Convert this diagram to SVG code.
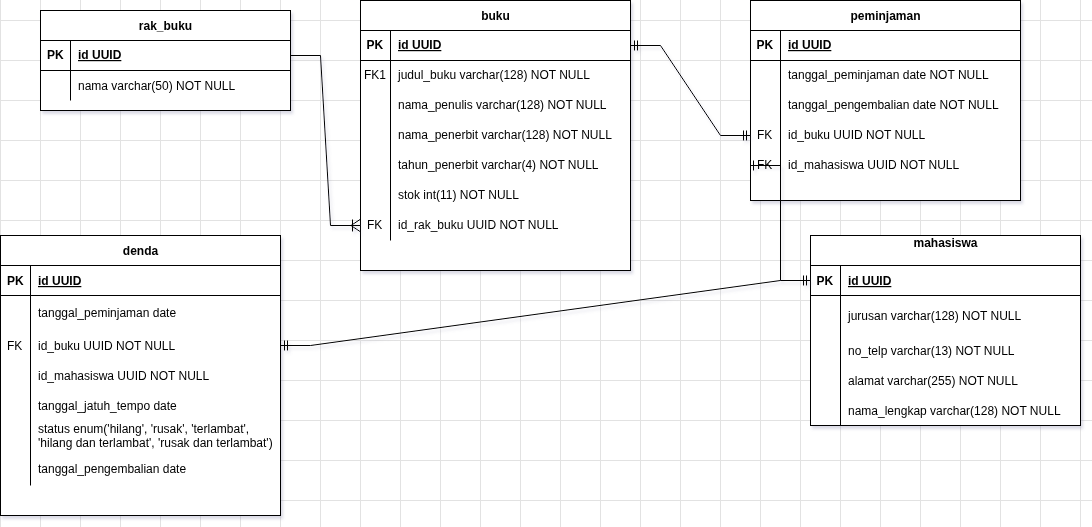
<svg xmlns="http://www.w3.org/2000/svg" width="1092" height="527" viewBox="0 0 1092 527">
<defs>
<pattern id="minor" width="10" height="10" patternUnits="userSpaceOnUse" x="0" y="0">
<path d="M10.5 0V10M0 10.5H10" fill="none" stroke="#f1f1f1" stroke-width="1"/>
</pattern>
<pattern id="major" width="40" height="40" patternUnits="userSpaceOnUse" x="0" y="20">
<path d="M0.5 0V40M0 0.5H40" fill="none" stroke="#e2e2e2" stroke-width="1"/>
</pattern>
<filter id="sh" x="-10%" y="-10%" width="130%" height="130%">
<feDropShadow dx="2" dy="3" stdDeviation="1.5" flood-color="#8888aa" flood-opacity="0.3"/>
</filter>
</defs>
<style>
.box{fill:#fff;stroke:#000;stroke-width:1}
.ln{fill:none;stroke:#000;stroke-width:1}
text{font-family:"Liberation Sans",Arial,sans-serif;font-size:12px;fill:#000}
.t{font-weight:bold;text-anchor:middle}
.pk{font-weight:bold}
.u{font-weight:bold;text-decoration:underline}
.c{fill:none;stroke:#000;stroke-width:1}
</style>
<rect width="1092" height="527" fill="#fff"/>
<rect width="1092" height="527" fill="url(#minor)"/>
<rect width="1092" height="527" fill="url(#major)"/>

<g id="rak_buku" filter="url(#sh)">
<rect class="box" x="40.5" y="10.5" width="250" height="100"/>
<path class="ln" d="M40.5 40.5H290.5M40.5 70.5H290.5M70.5 40.5V100.5"/>
<text class="t" x="165.5" y="30">rak_buku</text>
<text class="pk" x="47" y="59">PK</text>
<text class="u" x="78" y="59">id UUID</text>
<text x="78" y="90">nama varchar(50) NOT NULL</text>
</g>

<g id="buku" filter="url(#sh)">
<rect class="box" x="360.5" y="0.5" width="270" height="270"/>
<path class="ln" d="M360.5 30.5H630.5M360.5 60.5H630.5M390.5 30.5V240.5"/>
<text class="t" x="495.5" y="20">buku</text>
<text class="pk" x="366.5" y="49">PK</text>
<text class="u" x="398" y="49">id UUID</text>
<text x="364" y="79">FK1</text>
<text x="398" y="79">judul_buku varchar(128) NOT NULL</text>
<text x="398" y="109">nama_penulis varchar(128) NOT NULL</text>
<text x="398" y="139">nama_penerbit varchar(128) NOT NULL</text>
<text x="398" y="169">tahun_penerbit varchar(4) NOT NULL</text>
<text x="398" y="199">stok int(11) NOT NULL</text>
<text x="367" y="229">FK</text>
<text x="398" y="229">id_rak_buku UUID NOT NULL</text>
</g>

<g id="peminjaman" filter="url(#sh)">
<rect class="box" x="750.5" y="0.5" width="270" height="200"/>
<path class="ln" d="M750.5 30.5H1020.5M750.5 60.5H1020.5M780.5 30.5V200.5"/>
<text class="t" x="885.5" y="20">peminjaman</text>
<text class="pk" x="756.5" y="49">PK</text>
<text class="u" x="788" y="49">id UUID</text>
<text x="788" y="79">tanggal_peminjaman date NOT NULL</text>
<text x="788" y="109">tanggal_pengembalian date NOT NULL</text>
<text x="757" y="139">FK</text>
<text x="788" y="139">id_buku UUID NOT NULL</text>
<text x="757" y="169">FK</text>
<text x="788" y="169">id_mahasiswa UUID NOT NULL</text>
</g>

<g id="mahasiswa" filter="url(#sh)">
<rect class="box" x="810.5" y="235.5" width="270" height="190"/>
<path class="ln" d="M810.5 265.5H1080.5M810.5 295.5H1080.5M840.5 265.5V425.5"/>
<text class="t" x="945.5" y="247">mahasiswa</text>
<text class="pk" x="816.5" y="285">PK</text>
<text class="u" x="848" y="285">id UUID</text>
<text x="848" y="320">jurusan varchar(128) NOT NULL</text>
<text x="848" y="355">no_telp varchar(13) NOT NULL</text>
<text x="848" y="385">alamat varchar(255) NOT NULL</text>
<text x="848" y="415">nama_lengkap varchar(128) NOT NULL</text>
</g>

<g id="denda" filter="url(#sh)">
<rect class="box" x="0.5" y="235.5" width="280" height="280"/>
<path class="ln" d="M0.5 265.5H280.5M0.5 295.5H280.5M30.5 265.5V485.5"/>
<text class="t" x="140.5" y="255">denda</text>
<text class="pk" x="7" y="285">PK</text>
<text class="u" x="38" y="285">id UUID</text>
<text x="38" y="317">tanggal_peminjaman date</text>
<text x="7" y="350">FK</text>
<text x="38" y="350">id_buku UUID NOT NULL</text>
<text x="38" y="380">id_mahasiswa UUID NOT NULL</text>
<text x="38" y="410">tanggal_jatuh_tempo date</text>
<text x="38" y="433">status enum('hilang', 'rusak', 'terlambat',</text>
<text x="38" y="447">'hilang dan terlambat', 'rusak dan terlambat')</text>
<text x="38" y="473">tanggal_pengembalian date</text>
</g>

<g id="connectors" filter="url(#sh)">
<!-- rak_buku.id -> buku.id_rak_buku -->
<path class="c" d="M290.5 55.5H320.5L330.5 225.5H360.5"/>
<path class="c" d="M360 219.5L351 225.5L360 231.5M352.5 219.5V231.5"/>
<!-- buku.id -> peminjaman.id_buku -->
<path class="c" d="M630.5 45.5H660.5L720.5 135.5H750.5"/>
<path class="c" d="M634.5 40.5V50.5M637.5 40.5V50.5M743.5 130.5V140.5M746.5 130.5V140.5"/>
<!-- peminjaman.id_mahasiswa -> mahasiswa.id -->
<path class="c" d="M750.5 165.5H780.5V280.5H810.5"/>
<path class="c" d="M753.5 160.5V170.5M803.5 275.5V285.5M806.5 275.5V285.5"/>
<!-- denda.id_buku -> mahasiswa.id -->
<path class="c" d="M280.5 345.5H310.5L780.5 280.5"/>
<path class="c" d="M284.5 340.5V350.5M287.5 340.5V350.5"/>
</g>
</svg>
